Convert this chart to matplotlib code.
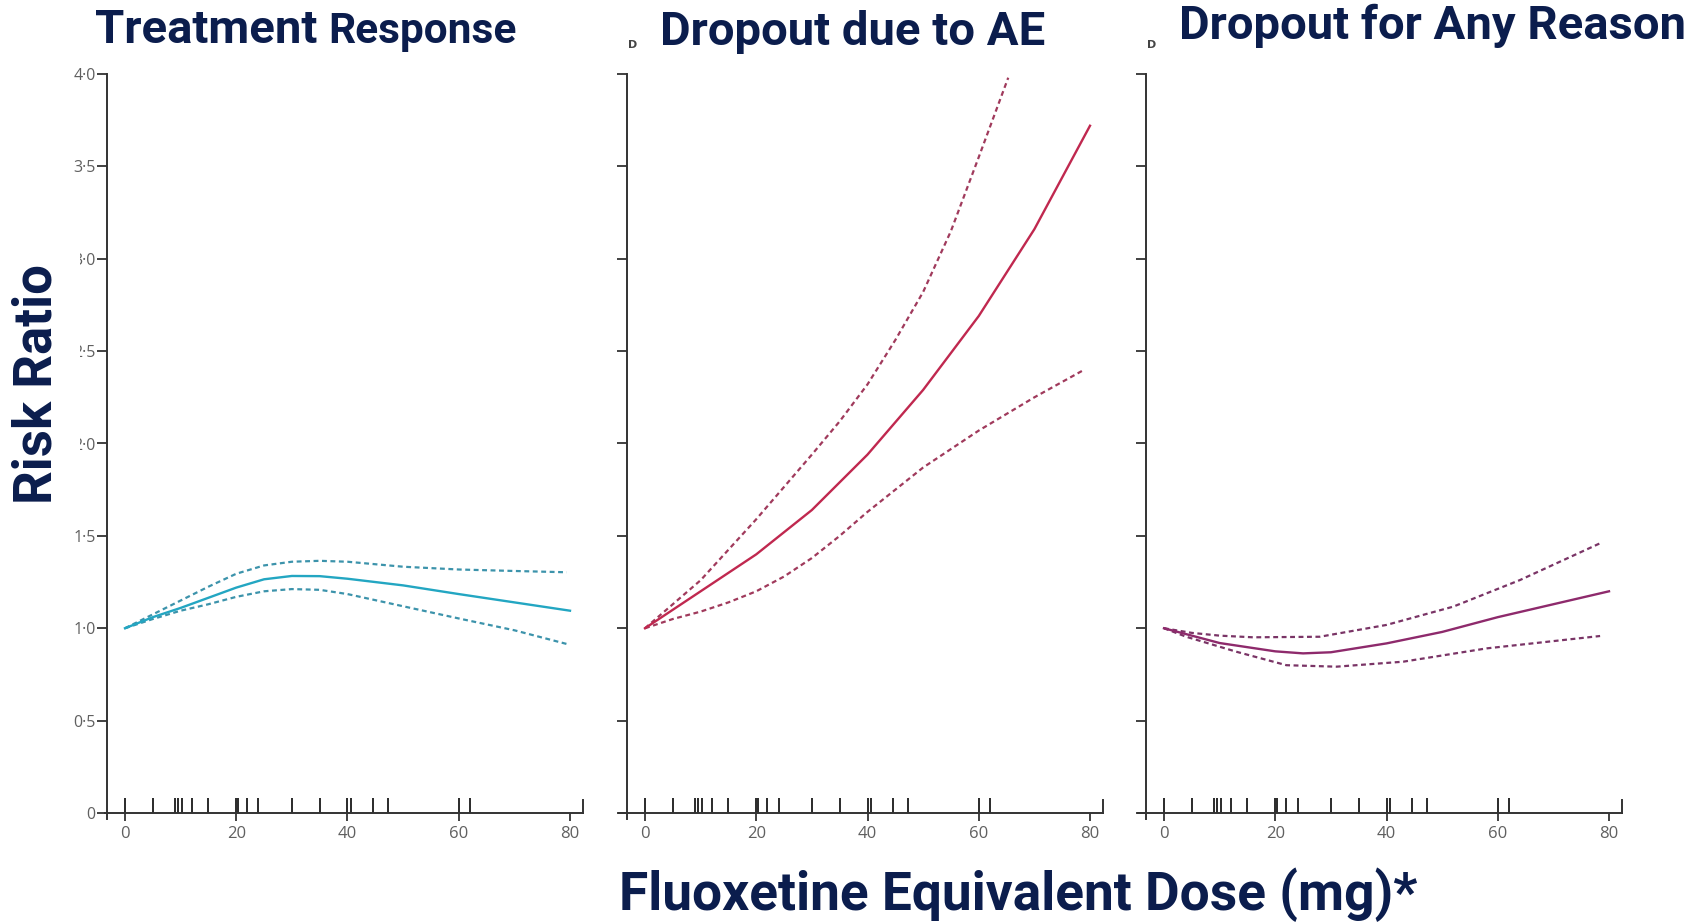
import matplotlib
matplotlib.use('Agg')
import matplotlib.pyplot as plt

# ---- data (dose in mg, risk ratio) ----
RUG_DOSES = [0, 5, 9, 9.6, 10.2, 12, 15, 20, 20.4, 22, 24, 30, 35, 40, 40.7, 44.5, 47.3, 60, 62]

# Treatment response
tr_dose = [0, 5, 10, 15, 20, 25, 30, 35, 40, 50, 60, 70, 80]
tr_rr = [1.0, 1.06, 1.11, 1.165, 1.22, 1.265, 1.283, 1.282, 1.268, 1.232, 1.185, 1.14, 1.095]
tr_up_dose = [0, 5, 10, 15, 20, 25, 30, 35, 40, 50, 60, 70, 79.4]
tr_up = [1.0, 1.075, 1.15, 1.225, 1.295, 1.34, 1.36, 1.365, 1.36, 1.333, 1.318, 1.31, 1.303]
tr_lo_dose = [0, 5, 10, 15, 20, 25, 30, 35, 40, 50, 60, 70, 79.4]
tr_lo = [1.0, 1.05, 1.095, 1.13, 1.17, 1.2, 1.212, 1.208, 1.185, 1.119, 1.053, 0.989, 0.915]

# Dropout due to adverse events
ae_dose = [0, 10, 20, 30, 40, 50, 60, 70, 80]
ae_rr = [1.0, 1.2, 1.4, 1.64, 1.94, 2.29, 2.69, 3.16, 3.72]
ae_up_dose = [0, 10, 20, 30, 35, 40, 45, 50, 55, 60, 65.3]
ae_up = [1.0, 1.26, 1.59, 1.94, 2.12, 2.32, 2.56, 2.82, 3.15, 3.55, 3.98]
ae_lo_dose = [0, 5, 10, 15, 20, 25, 30, 35, 40, 50, 60, 70, 79]
ae_lo = [1.0, 1.05, 1.09, 1.14, 1.2, 1.28, 1.38, 1.5, 1.63, 1.87, 2.07, 2.25, 2.40]

# Dropout for any reason
any_dose = [0, 10, 20, 25, 30, 40, 50, 60, 70, 80]
any_rr = [1.0, 0.92, 0.875, 0.864, 0.87, 0.918, 0.98, 1.06, 1.13, 1.2]
any_up_dose = [0, 5, 10, 16, 28, 40, 52, 64, 78.4]
any_up = [1.0, 0.975, 0.96, 0.951, 0.954, 1.018, 1.117, 1.261, 1.46]
any_lo_dose = [0, 4, 13, 22, 31, 43, 58, 78.4]
any_lo = [1.0, 0.954, 0.873, 0.80, 0.792, 0.819, 0.891, 0.958]

Y_TICKS = [0, 0.5, 1.0, 1.5, 2.0, 2.5, 3.0, 3.5, 4.0]
Y_TICK_LABELS = ['0', '0·5', '1·0', '1·5', '2·0', '2·5', '3·0', '3·5', '4·0']
X_TICKS = [0, 20, 40, 60, 80]

PANELS = [
    {'mid': (tr_dose, tr_rr), 'up': (tr_up_dose, tr_up), 'lo': (tr_lo_dose, tr_lo),
     'color': '#23a6c2', 'ci_color': '#3c93ab'},
    {'mid': (ae_dose, ae_rr), 'up': (ae_up_dose, ae_up), 'lo': (ae_lo_dose, ae_lo),
     'color': '#c0284f', 'ci_color': '#a03a5c'},
    {'mid': (any_dose, any_rr), 'up': (any_up_dose, any_up), 'lo': (any_lo_dose, any_lo),
     'color': '#8e2a6c', 'ci_color': '#7a3466'},
]

NAVY = '#0b1d4d'
W, H = 1696, 922
fig = plt.figure(figsize=(W / 100, H / 100), dpi=100)

XMIN, XMAX = -4.8, 82.6
YMIN, YMAX = -0.04, 4.02
PX_PER_DOSE = 5.5625
PX_PER_RR = 184.75
zero_px = [125, 645, 1164]   # pixel x of dose 0 in each panel
y0_px = 813                  # pixel y of RR 0

for i, p in enumerate(PANELS):
    left = zero_px[i] + XMIN * PX_PER_DOSE
    width = (XMAX - XMIN) * PX_PER_DOSE
    top = y0_px - YMAX * PX_PER_RR
    height = (YMAX - YMIN) * PX_PER_RR
    ax = fig.add_axes([left / W, 1 - (top + height) / H, width / W, height / H])
    ax.set_xlim(XMIN, XMAX)
    ax.set_ylim(YMIN, YMAX)
    ax.patch.set_alpha(0)

    ci_style = (0, (2.2, 1.6))
    ax.plot(*p['up'], color=p['ci_color'], lw=1.6, ls=ci_style)
    ax.plot(*p['lo'], color=p['ci_color'], lw=1.6, ls=ci_style)
    ax.plot(*p['mid'], color=p['color'], lw=1.7)

    # rug of study doses
    ax.vlines(RUG_DOSES, 0, 0.082, color='#2a2a2a', lw=1.4)

    for s in ['top', 'right']:
        ax.spines[s].set_visible(False)
    ax.spines['left'].set_position(('data', -3.24))
    ax.spines['left'].set_bounds(-0.03, 4.0)
    ax.spines['bottom'].set_position(('data', 0))
    ax.spines['bottom'].set_bounds(-4.6 if i else -3.6, 82.4)
    for s in ['left', 'bottom']:
        ax.spines[s].set_color('#333333')
        ax.spines[s].set_linewidth(1.4)
    # small upward end cap on the dose axis
    ax.plot([82.4, 82.4], [0, 0.07], color='#333333', lw=1.4)

    ax.set_yticks(Y_TICKS)
    ax.set_xticks(X_TICKS)
    ax.tick_params(axis='y', direction='out', length=7, width=1.3, color='#333333',
                   labelsize=11.5, labelcolor='#606060', pad=1)
    ax.tick_params(axis='x', direction='out', length=6, width=1.3, color='#333333',
                   labelsize=12, labelcolor='#606060', pad=3)
    ax.set_xticklabels([str(t) for t in X_TICKS], family='Open Sans')
    if i == 0:
        ax.set_yticklabels(Y_TICK_LABELS, family='Open Sans')
    else:
        ax.set_yticklabels([])
        fig.text((zero_px[i] - 12) / W, 1 - 45 / H, 'D', fontsize=8, color='#444444',
                 fontweight='bold', ha='center', va='center')

# titles
title_kw = dict(fontweight='bold', color=NAVY, family='Roboto', ha='left', va='baseline')
fig.text(95 / W, 1 - 43 / H, 'Treatment', fontsize=34, **title_kw)
fig.text(328 / W, 1 - 43 / H, 'Response', fontsize=30.5, **title_kw)
fig.text(660 / W, 1 - 45 / H, 'Dropout due to AE', fontsize=34, **title_kw)
fig.text(1179 / W, 1 - 39 / H, 'Dropout for Any Reason', fontsize=34, **title_kw)

fig.text(37 / W, 1 - 384 / H, 'Risk Ratio', fontsize=38, fontweight='bold', color=NAVY,
         family='Roboto', rotation=90, ha='center', va='center',
         bbox=dict(boxstyle='square,pad=0.34', facecolor='white', edgecolor='none'))
fig.text(619 / W, 1 - 910 / H, 'Fluoxetine Equivalent Dose (mg)*', fontsize=38.3,
         fontweight='bold', color=NAVY, family='Roboto', ha='left', va='baseline')

fig.savefig('out.png', dpi=100, facecolor='white')
